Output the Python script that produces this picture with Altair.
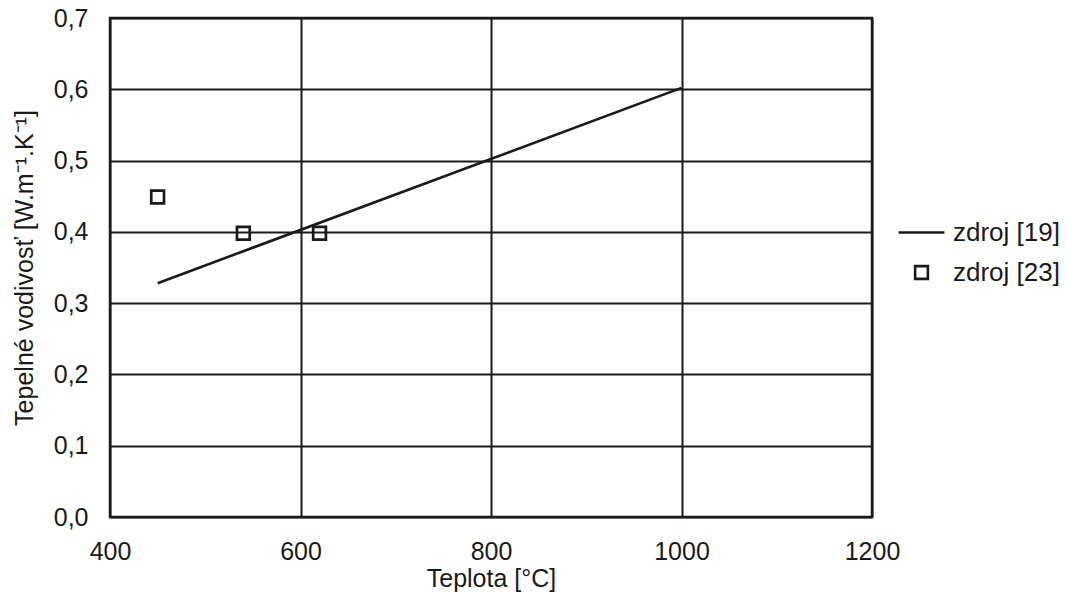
import altair as alt
import pandas as pd

# Data
line_x = [450, 1000]
line_y = [0.328, 0.602]
pts_x = [450, 540, 620]
pts_y = [0.449, 0.398, 0.398]
series = ["zdroj [19]", "zdroj [23]"]
x_ticks = [400, 600, 800, 1000, 1200]
y_ticks = [0, 0.1, 0.2, 0.3, 0.4, 0.5, 0.6, 0.7]

line_df = pd.DataFrame({"x": line_x, "y": line_y, "s": series[0]})
pts_df = pd.DataFrame({"x": pts_x, "y": pts_y, "s": series[1]})

FONT = "Liberation Sans"
INK = "#1a1a1a"

xscale = alt.Scale(domain=[400, 1200], nice=False, zero=False)
yscale = alt.Scale(domain=[0, 0.7], nice=False)

xaxis = alt.Axis(values=x_ticks, format="d", title="Teplota [°C]",
                 labelPadding=22, titlePadding=2, labelFlush=False)
yaxis = alt.Axis(values=y_ticks,
                 labelExpr="replace(format(datum.value, '.1f'), '.', ',')",
                 title="Tepelné vodivosť [W.m⁻¹.K⁻¹]",
                 labelPadding=22, titlePadding=16)

shape_scale = alt.Scale(domain=series,
                        range=["M-1.8,0H1.8", "M-0.5,-0.5H0.5V0.5H-0.5Z"])

line = alt.Chart(line_df).mark_line(color=INK, strokeWidth=2.6).encode(
    x=alt.X("x:Q", scale=xscale, axis=xaxis),
    y=alt.Y("y:Q", scale=yscale, axis=yaxis),
)

pts = alt.Chart(pts_df).mark_point(filled=False, strokeWidth=2.7, opacity=1, size=650).encode(
    x=alt.X("x:Q", scale=xscale, axis=xaxis),
    y=alt.Y("y:Q", scale=yscale, axis=yaxis),
    shape=alt.Shape("s:N", scale=shape_scale,
                    legend=alt.Legend(title=None, orient="none", legendX=797, legendY=200,
                                      padding=0)),
    color=alt.value(INK),
)

chart = alt.layer(line, pts).properties(
    width=762, height=499,
    autosize=alt.AutoSizeParams(type="none"),
    padding={"left": 110, "top": 18, "right": 194, "bottom": 75},
    background="white",
).configure_view(
    stroke=INK, strokeWidth=2.5
).configure_axis(
    grid=True, gridColor=INK, gridWidth=2, gridOpacity=1,
    ticks=False, domain=False, labelFontSize=25, titleFontSize=25,
    labelFont=FONT, titleFont=FONT, labelColor=INK, titleColor=INK,
    titleFontWeight="normal",
).configure_legend(
    labelFontSize=26, labelFont=FONT, labelColor=INK,
    symbolSize=650, symbolStrokeWidth=2.6, symbolStrokeColor=INK,
    symbolFillColor="transparent", symbolType="square",
    rowPadding=12, labelOffset=17,
)

chart.save("out.html", embed_options={"renderer": "svg", "actions": False})
